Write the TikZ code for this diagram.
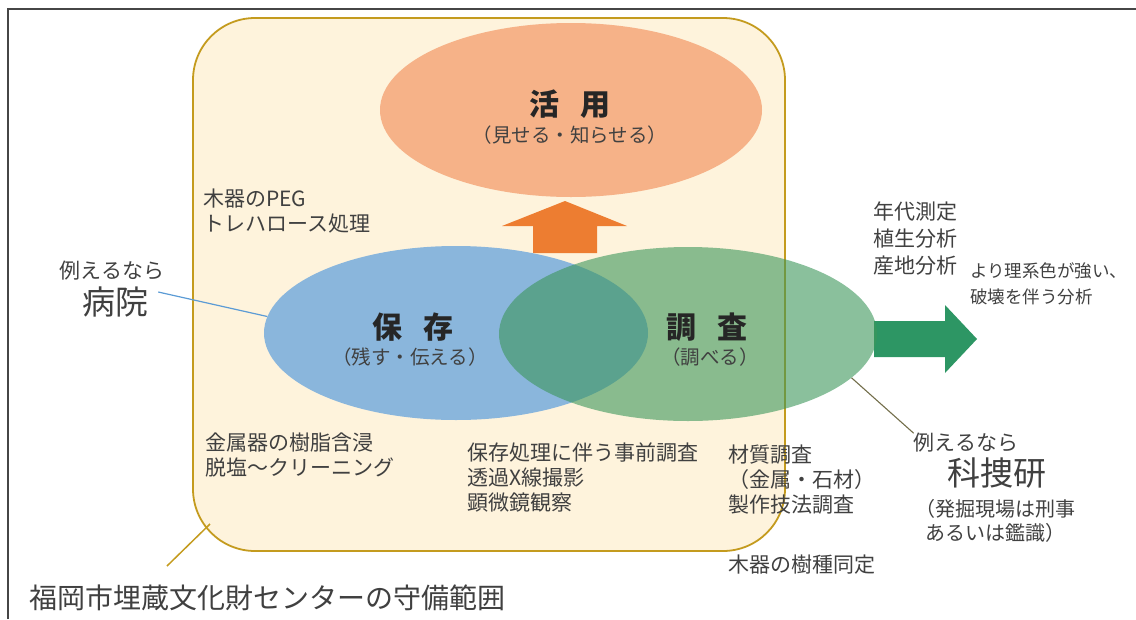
\documentclass[tikz,border=0pt]{standalone}
\usepackage{fontspec}
\setmainfont{Noto Sans CJK JP}
\usetikzlibrary{shapes.geometric}
\definecolor{ink}{RGB}{64,64,64}
\definecolor{frame}{RGB}{70,70,70}
\definecolor{cream}{RGB}{254,243,220}
\definecolor{gold}{RGB}{196,155,30}
\definecolor{salmon}{RGB}{246,178,136}
\definecolor{carrot}{RGB}{237,125,49}
\definecolor{skyblue}{RGB}{138,182,220}
\definecolor{seablue}{RGB}{91,155,213}
\definecolor{leaf}{RGB}{60,150,90}
\definecolor{pine}{RGB}{45,150,100}
\definecolor{mud}{RGB}{115,110,75}

\begin{document}
\begin{tikzpicture}[x=1pt,y=-1pt,
    every node/.style={inner sep=0pt,text=ink},
    area/.style={draw=gold,line width=1.8pt,fill=cream,rounded corners=62pt,
      minimum width=592pt,minimum height=533pt},
    blob/.style={ellipse,minimum width=#1,minimum height=174pt},
    memo/.style={anchor=north west,align=left,font=\fontsize{21}{25}\selectfont},
    title/.style={font=\fontsize{30}{32}\selectfont\bfseries,text=black!85},
    sub/.style={font=\fontsize{19.5}{22}\selectfont},
    big/.style={font=\fontsize{33}{36}\selectfont}]
  \useasboundingbox (0,0) rectangle (1136,619);
  \draw[frame,line width=1.8pt] (8,619) -- (8,9) -- (1136,9);

  % range of the centre
  \node[area] (hani) at (489,284.5) {};

  % circles and arrows
  \node[blob=382pt,fill=salmon] (katsuyo) at (571,110) {};
  \fill[carrot] (565,201) -- (627,226) -- (597,226) -- (597,253)
    -- (533,253) -- (533,226) -- (502,226) -- cycle;
  \fill[pine] (874,321) -- (945,321) -- (945,305) -- (977,339)
    -- (945,373) -- (945,357) -- (874,357) -- cycle;
  \node[blob=384pt,fill=skyblue] (hozon) at (456,333) {};
  \node[blob=378pt,fill=leaf,fill opacity=0.6] (chosa) at (688,334) {};

  \node[title] at (570,104) {活\hspace{0.7em}用};
  \node[sub] at (570,135) {（見せる・知らせる）};
  \node[title] at (413,327) {保\hspace{0.7em}存};
  \node[sub] at (410,357) {（残す・伝える）};
  \node[title] at (707,327) {調\hspace{0.7em}査};
  \node[sub] at (710,357) {（調べる）};

  % notes
  \foreach \name/\x/\y/\txt in {
      mokki/203/189/{木器のPEG\\トレハロース処理},
      kinzoku/205/433/{金属器の樹脂含浸\\脱塩～クリーニング},
      jizen/467/443/{保存処理に伴う事前調査\\透過X線撮影\\顕微鏡観察},
      zaishitsu/728/445/{材質調査\\（金属・石材）\\製作技法調査},
      jushu/728/555/{木器の樹種同定}}
    \node[memo] (\name) at (\x,\y) {\txt};
  \node[memo,font=\fontsize{21}{27}\selectfont] (nendai) at (873,202) {年代測定\\植生分析\\産地分析};
  \node[memo,font=\fontsize{17.5}{26}\selectfont] (rikei) at (970,262) {より理系色が強い、\\破壊を伴う分析};

  % examples
  \node[memo,anchor=center] (rei1) at (112,271) {例えるなら};
  \node[big] (byoin) at (115,302) {病院};
  \node[memo,anchor=center] (rei2) at (966,443) {例えるなら};
  \node[big] (kasouken) at (997,473) {科捜研};
  \node[memo,font=\fontsize{20}{24}\selectfont] (hakkutsu) at (925,499) {\hspace*{-10pt}（発掘現場は刑事\\あるいは鑑識）};
  \node[memo,font=\fontsize{28}{30}\selectfont] (caption) at (29,585) {福岡市埋蔵文化財センターの守備範囲};

  \draw[seablue,line width=1.2pt] ([xshift=10pt,yshift=10pt]byoin.east) -- (hozon.175);
  \draw[mud,line width=1.1pt] (chosa.-15) -- (rei2.north west);
  \coordinate (kado) at (210,524);
  \coordinate (hashi) at (167,566);
  \draw[gold,line width=1.5pt] (kado) -- (hashi);
\end{tikzpicture}
\end{document}
